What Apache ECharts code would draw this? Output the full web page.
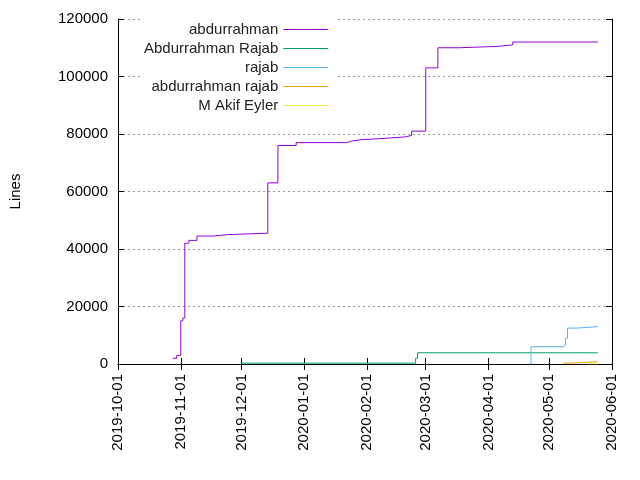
<!DOCTYPE html>
<html>
<head>
<meta charset="utf-8">
<script src="https://cdn.jsdelivr.net/npm/echarts@6/dist/echarts.min.js"></script>
<style>html,body{margin:0;background:#fff}#c{width:640px;height:480px}</style>
</head>
<body>
<div id="c"></div>
<script>
// step points: [date, lines after change]
const abdurrahman = [
    ["2019-10-28", 2000], ["2019-10-30", 3000], ["2019-11-01", 15000], ["2019-11-02", 16000],
    ["2019-11-03", 42000], ["2019-11-05", 43000], ["2019-11-09", 44500], ["2019-11-17", 45000],
    ["2019-11-24", 45500], ["2019-12-14", 63000], ["2019-12-19", 76000], ["2019-12-28", 77000],
    ["2020-01-22", 77500], ["2020-01-24", 78000], ["2020-01-29", 78500], ["2020-02-10", 79000],
    ["2020-02-20", 79500], ["2020-02-23", 81000], ["2020-03-01", 103000], ["2020-03-07", 110000],
    ["2020-03-18", 110500], ["2020-04-06", 111000], ["2020-04-13", 112000], ["2020-05-25", 112000],
];
const abdurrahmanRajab = [
    ["2019-12-01", 300], ["2020-02-24", 300], ["2020-02-25", 2000], ["2020-02-26", 3900], ["2020-05-25", 3900],
];
const rajab = [
    ["2020-04-21", 0], ["2020-04-22", 6000], ["2020-05-08", 6500], ["2020-05-09", 9000],
    ["2020-05-10", 12500], ["2020-05-15", 13000], ["2020-05-25", 13000],
];
const abdurrahmanRajabLower = [
    ["2020-05-08", 300], ["2020-05-12", 800], ["2020-05-25", 800],
];
const akifEyler = [
    ["2020-05-20", 50], ["2020-05-25", 100],
];

const names = ["abdurrahman", "Abdurrahman Rajab", "rajab", "abdurrahman rajab", "M Akif Eyler"];
const colors = ["#9400d3", "#009e73", "#56b4e9", "#e69f00", "#f0e442"];
const seriesData = [abdurrahman, abdurrahmanRajab, rajab, abdurrahmanRajabLower, akifEyler];

const font = "Liberation Sans";
const black = { color: "#000" };
const chart = echarts.init(document.getElementById("c"));
chart.setOption({
    animation: false,
    textStyle: { fontFamily: font },
    grid: { left: 115, right: 28, top: 19, bottom: 116 },
    legend: {
        orient: "vertical",
        left: 140,
        top: 16,
        itemGap: 4,
        itemWidth: 45,
        itemHeight: 1,
        align: "right",
        icon: "rect",
        backgroundColor: "#fff",
        padding: [6, 8, 6, 4],
        textStyle: { fontSize: 15, color: "#222", width: 150, align: "right", fontFamily: font },
        data: names,
    },
    xAxis: [{
        type: "time",
        min: "2019-10-01",
        max: "2020-06-01",
        minInterval: 28 * 86400000,
        maxInterval: 31 * 86400000,
        axisLine: { show: true, lineStyle: black },
        axisTick: { inside: true, length: 6, lineStyle: black },
        splitLine: { show: false },
        axisLabel: {
            rotate: 90,
            fontSize: 15,
            color: "#000",
            margin: 10,
            formatter: (v) => echarts.time.format(v, "{yyyy}-{MM}-{dd}", false),
        },
    }, {
        type: "time",
        position: "top",
        min: "2019-10-01",
        max: "2020-06-01",
        minInterval: 28 * 86400000,
        maxInterval: 31 * 86400000,
        axisLine: { show: true, lineStyle: black },
        axisTick: { inside: true, length: 6, lineStyle: black },
        axisLabel: { show: false },
        splitLine: { show: false },
    }],
    yAxis: [{
        type: "value",
        name: "Lines",
        nameLocation: "middle",
        nameGap: 95,
        nameTextStyle: { fontSize: 15, color: "#000" },
        min: 0,
        max: 120000,
        interval: 20000,
        axisLine: { show: true, lineStyle: black },
        axisTick: { show: true, inside: true, length: 6, lineStyle: black },
        axisLabel: { fontSize: 15, color: "#000", margin: 10, formatter: (v) => String(v) },
        splitLine: { lineStyle: { type: [2, 3], color: "#999" } },
    }, {
        type: "value",
        position: "right",
        min: 0,
        max: 120000,
        interval: 20000,
        axisLine: { show: true, lineStyle: black },
        axisTick: { show: true, inside: true, length: 6, lineStyle: black },
        axisLabel: { show: false },
        splitLine: { show: false },
    }],
    series: seriesData.map((d, i) => ({
        name: names[i],
        type: "line",
        step: "end",
        data: d,
        showSymbol: false,
        itemStyle: { color: colors[i] },
        lineStyle: { width: 1, color: colors[i] },
    })),
});
</script>
</body>
</html>
